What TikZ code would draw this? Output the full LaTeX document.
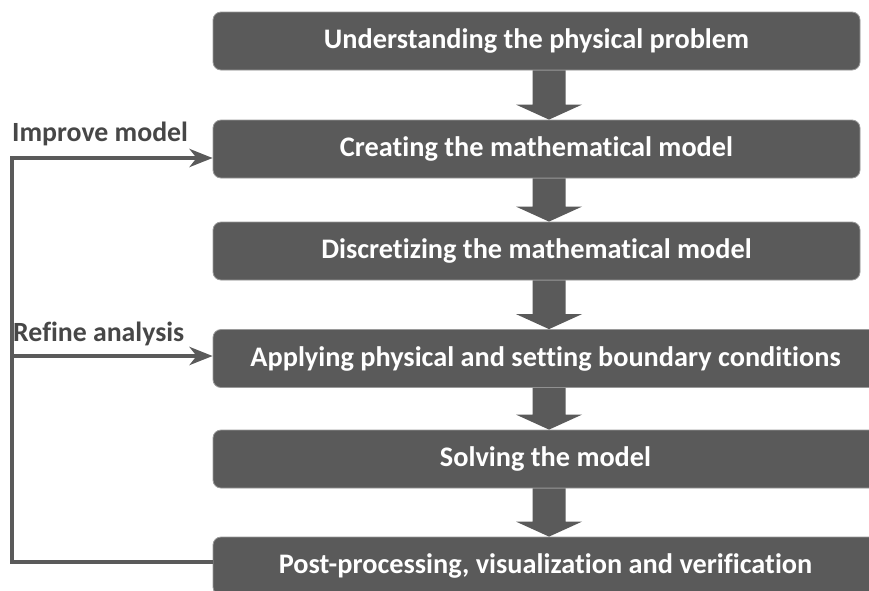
\documentclass[tikz,border=0pt]{standalone}
\usepackage{fontspec}
\setmainfont{Carlito}[Ligatures=NoCommon]
\usetikzlibrary{calc,arrows.meta}

\definecolor{boxgray}{HTML}{5A5A5A}
\definecolor{edgegray}{HTML}{9A9A9A}
\definecolor{labelgray}{HTML}{474747}

\tikzset{
  stepbox/.style={draw=edgegray, line width=0.8pt, fill=boxgray, rounded corners=8pt,
    minimum height=58pt, inner sep=0pt, text=white,
    font=\fontsize{28.3}{32}\selectfont\bfseries},
  shortbox/.style={stepbox, minimum width=647pt},
  longbox/.style={stepbox, minimum width=665pt},
  fbline/.style={draw=boxgray, line width=4pt, line join=miter},
  fbtip/.style={-{Stealth[length=23pt, width=18pt, inset=7pt]}},
  fblabel/.style={text=labelgray, inner sep=0pt, anchor=base west,
    font=\fontsize{27.8}{32}\selectfont\bfseries},
}

% Block arrow between two stacked steps, on the common axis (ax)
\newcommand\flowarrow[2]{%
  \fill[boxgray]
    ($(#1.south -| ax)+(-16.5,0)$) -- ($(#2.north -| ax)+(-16.5,-15)$)
    -- ($(#2.north -| ax)+(-33,-15)$) -- (#2.north -| ax)
    -- ($(#2.north -| ax)+(33,-15)$) -- ($(#2.north -| ax)+(16.5,-15)$)
    -- ($(#1.south -| ax)+(16.5,0)$) -- cycle;}

\begin{document}
\begin{tikzpicture}[x=1pt, y=-1pt]
  \clip (0,0) rectangle (869,590);
  \fill[white] (0,0) rectangle (869,590);

  % process steps
  \node[shortbox] (b1) at (536.5,41)  {Understanding the physical problem};
  \node[shortbox] (b2) at (536.5,149) {Creating the mathematical model};
  \node[shortbox] (b3) at (536.5,251) {Discretizing the mathematical model};
  \node[longbox]  (b4) at (545.5,358.5) {Applying physical and setting boundary conditions};
  \node[longbox]  (b5) at (545.5,459) {Solving the model};
  \node[longbox]  (b6) at (545.5,566) {Post-processing, visualization and verification};

  % flow between steps
  \coordinate (ax) at (549,0);
  \flowarrow{b1}{b2}
  \flowarrow{b2}{b3}
  \flowarrow{b3}{b4}
  \flowarrow{b4}{b5}
  \flowarrow{b5}{b6}

  % feedback loop
  \coordinate (fbbot) at (12,562);
  \coordinate (fbtop) at (12,158);
  \coordinate (fbmid) at (12,356);
  \draw[fbline, fbtip] (b6.west |- fbbot) -- (fbbot) -- (fbtop) -- (b2.west |- fbtop);
  \draw[fbline, fbtip] (fbmid) -- (b4.west |- fbmid);

  \node[fblabel] (l1) at (12,141) {Improve model};
  \node[fblabel] (l2) at (13,341) {Refine analysis};
\end{tikzpicture}
\end{document}
